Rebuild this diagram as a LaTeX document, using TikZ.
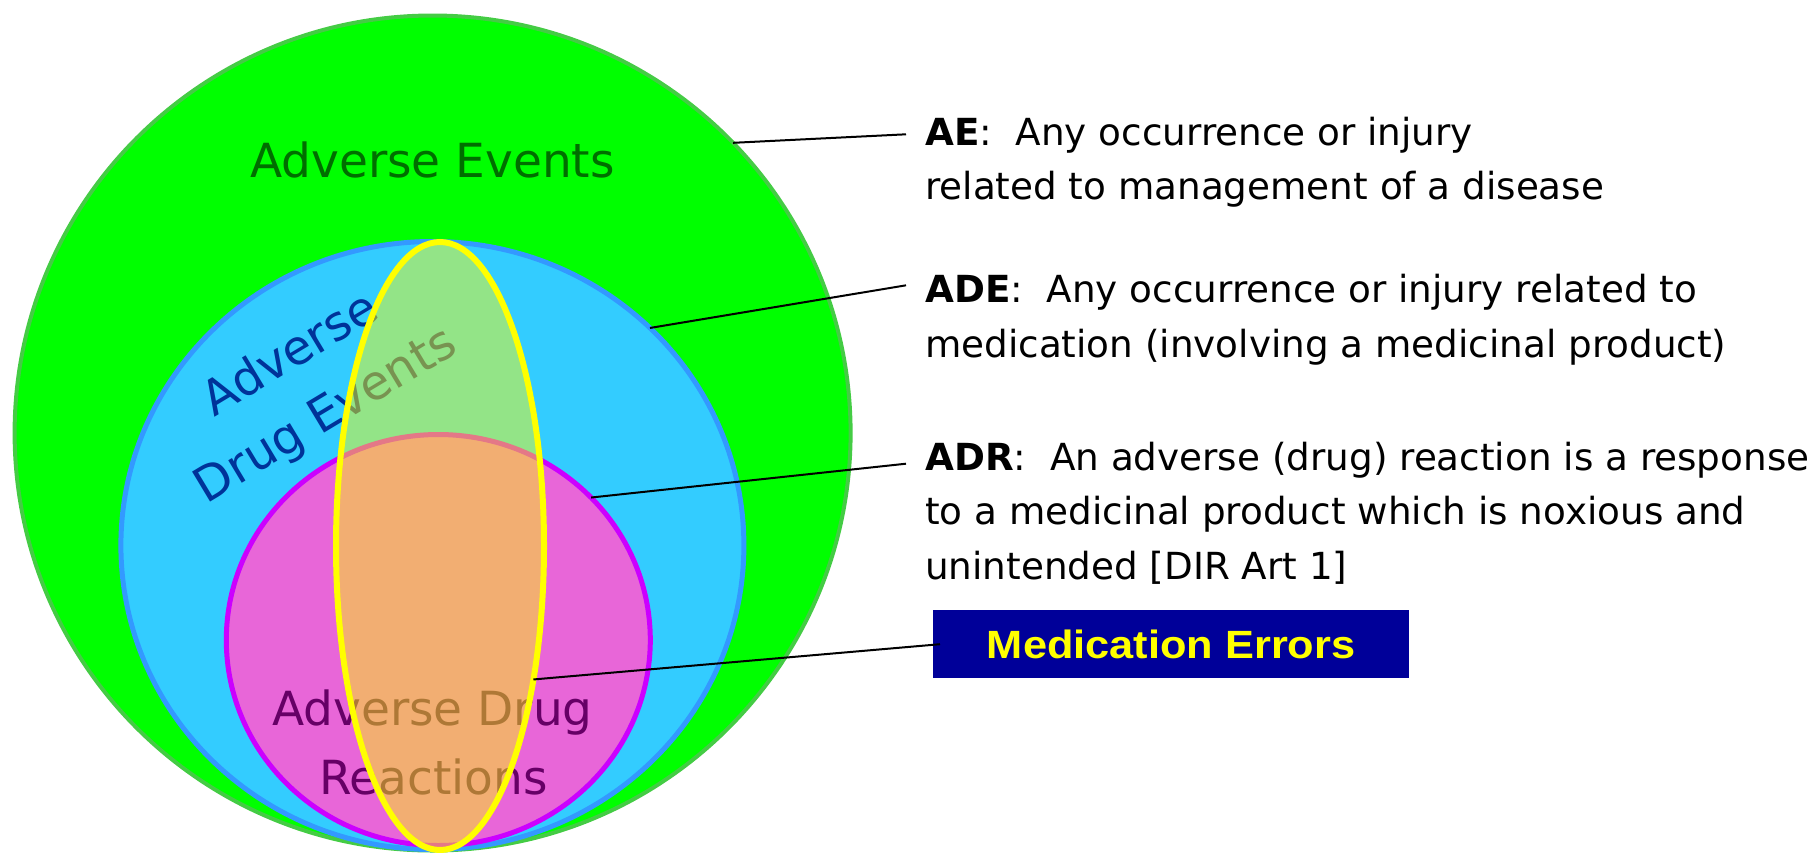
\documentclass[tikz,border=0pt]{standalone}
\usepackage{graphicx}
\usepackage{fontspec}
\setmainfont{DejaVu Sans}
\newfontfamily\boxfont{Liberation Sans}
\usetikzlibrary{shapes.geometric}

\definecolor{aefill}{HTML}{00FF00}
\definecolor{aeline}{HTML}{44CC44}
\definecolor{aetext}{HTML}{006E00}
\definecolor{adefill}{HTML}{33CCFF}
\definecolor{adeline}{HTML}{3399FF}
\definecolor{adetext}{HTML}{003399}
\definecolor{adrfill}{HTML}{E866D8}
\definecolor{adrline}{HTML}{CC00FF}
\definecolor{adrtext}{HTML}{660066}
\definecolor{meyellow}{HTML}{FFFF00}
\definecolor{meblue}{HTML}{000099}

\begin{document}
\begin{tikzpicture}[x=1pt, y=-1pt,
  set/.style={ellipse, inner sep=0pt, outer sep=0pt},
  setlabel/.style={inner sep=0pt, anchor=base, font=\fontsize{47}{56}\selectfont},
  defn/.style={inner sep=0pt, anchor=base west, font=\fontsize{37.3}{44}\selectfont},
  leader/.style={draw=black, line width=2pt}]

% canvas
\clip (0,0) rectangle (1819,852);

% nested sets
\node[set, fill=aefill, draw=aeline, line width=4pt,
      minimum width=836pt, minimum height=835pt] (ae) at (432.6,433) {};
\node[set, fill=adefill, draw=adeline, line width=5pt,
      minimum width=623pt, minimum height=608pt] (ade) at (432.4,545.5) {};
\node[set, fill=adrfill, draw=adrline, line width=5pt,
      minimum width=424pt, minimum height=411pt] (adr) at (438.3,640) {};

% set names
\node[setlabel, text=aetext] (aeName) at (432.5,177) {Adverse Events};
\node[setlabel, text=adetext, rotate=31, font=\fontsize{48}{56}\selectfont] (adeName1) at (298,367) {Adverse};
\node[setlabel, text=adetext, rotate=31, font=\fontsize{48}{56}\selectfont] (adeName2) at (333,428) {Drug Events};
\node[setlabel, text=adrtext] (adrName1) at (432.5,725) {Adverse Drug};
\node[setlabel, text=adrtext] (adrName2) at (433.5,794) {Reactions};

% medication errors cut across all sets
\node[set, fill=meyellow, fill opacity=0.47, draw=meyellow, draw opacity=1,
      line width=6pt, minimum width=208pt, minimum height=608pt] (me) at (440,546) {};

% definitions
\node[defn] (aeDef1) at (925,145) {\textbf{AE}:\ \ Any occurrence or injury};
\node[defn] (aeDef2) at (925,199.5) {related to management of a disease};
\node[defn] (adeDef1) at (925,302) {\textbf{ADE}:\ \ Any occurrence or injury related to};
\node[defn] (adeDef2) at (925,357) {medication (involving a medicinal product)};
\node[defn] (adrDef1) at (925,470) {\textbf{ADR}:\ \ An adverse (drug) reaction is a response};
\node[defn] (adrDef2) at (925,524.5) {to a medicinal product which is noxious and};
\node[defn] (adrDef3) at (925,579) {unintended [DIR Art 1]};

\node[fill=meblue, text=meyellow, inner sep=0pt, anchor=north west,
      minimum width=476pt, minimum height=68pt] (meBox) at (933,610)
      {\scalebox{1.1}[1]{\boxfont\bfseries\fontsize{39.4}{44}\selectfont Medication Errors}};

% leader lines
\coordinate (aeEnd) at (906,134.3);
\coordinate (adeEnd) at (906,285.3);
\coordinate (adrEnd) at (906,463.7);
\draw[leader] (ae.44.3) -- (aeEnd);
\draw[leader] (ade.45.5) -- (adeEnd);
\draw[leader] (adr.43.4) -- (adrEnd);
\draw[leader] (me.-55.4) -- ([xshift=7pt]meBox.west);
\end{tikzpicture}
\end{document}
